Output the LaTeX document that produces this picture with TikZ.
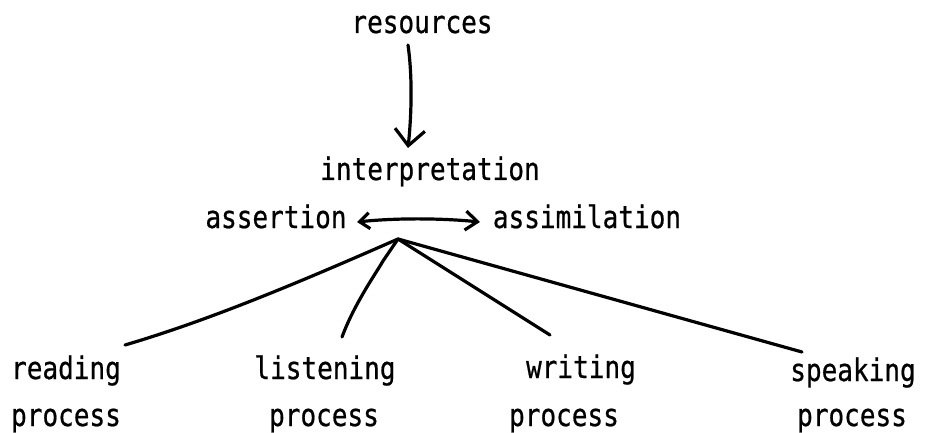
\documentclass[tikz,border=0pt]{standalone}
\usepackage{fontspec}
\usepackage{graphicx}
\newfontfamily\typefont[FakeBold=0.7]{DejaVu Sans Mono}
\usetikzlibrary{arrows.meta}
% narrow typewriter lettering
\newcommand\typed[1]{\scalebox{0.84}[1]{#1}}
\tikzset{
  lbl/.style={font=\typefont\fontsize{31}{31}\selectfont, inner sep=0pt, anchor=base},
  stroke/.style={line width=3.2pt, line cap=round, line join=round},
  bigvee/.tip={Straight Barb[length=16pt,width=30pt]},
  leftvee/.tip={Straight Barb[length=10pt,width=16pt]},
  rightvee/.tip={Straight Barb[length=12pt,width=19pt]},
}
\begin{document}
\begin{tikzpicture}[x=1pt,y=-1pt]
  \useasboundingbox (0,0) rectangle (935,433);
  % labels
  \node[lbl] (resources) at (422,33) {\typed{resources}};
  \node[lbl] (interp) at (430,180) {\typed{interpretation}};
  \node[lbl] (assertion) at (276,228) {\typed{assertion}};
  \node[lbl] (assimilation) at (587,228) {\typed{assimilation}};
  \node[lbl] (reading) at (66,379) {\typed{reading}};
  \node[lbl] (readingp) at (66,426) {\typed{process}};
  \node[lbl] (listening) at (325,379) {\typed{listening}};
  \node[lbl] (listeningp) at (324,426) {\typed{process}};
  \node[lbl] (writing) at (581,378) {\typed{writing}};
  \node[lbl] (writingp) at (564,426) {\typed{process}};
  \node[lbl] (speaking) at (853,381) {\typed{speaking}};
  \node[lbl] (speakingp) at (852,426) {\typed{process}};
  % connector ends
  \coordinate (aTop) at (408,45);
  \coordinate (aTip) at (408,148);
  \coordinate (asL) at (357,222);
  \coordinate (asR) at (480,222);
  \coordinate (hub) at (398,239);
  \coordinate (rEnd) at (125,345);
  \coordinate (lEnd) at (342,337);
  \coordinate (wEnd) at (550,335);
  \coordinate (sEnd) at (802,352);
  % resources feed interpretation
  \draw[stroke, -{bigvee}] (aTop) .. controls (413,80) and (411,120) .. (aTip);
  % assertion <-> assimilation
  \draw[stroke, {leftvee}-{rightvee}] (asL) .. controls (395,218) and (440,218) .. (asR);
  % the four processes
  \draw[stroke] (hub) .. controls (300,282) and (210,320) .. (rEnd);
  \draw[stroke] (hub) -- (383,261) -- (380,266) .. controls (368,285) and (352,310) .. (lEnd);
  \draw[stroke] (hub) -- (wEnd);
  \draw[stroke] (hub) -- (sEnd);
\end{tikzpicture}
\end{document}
